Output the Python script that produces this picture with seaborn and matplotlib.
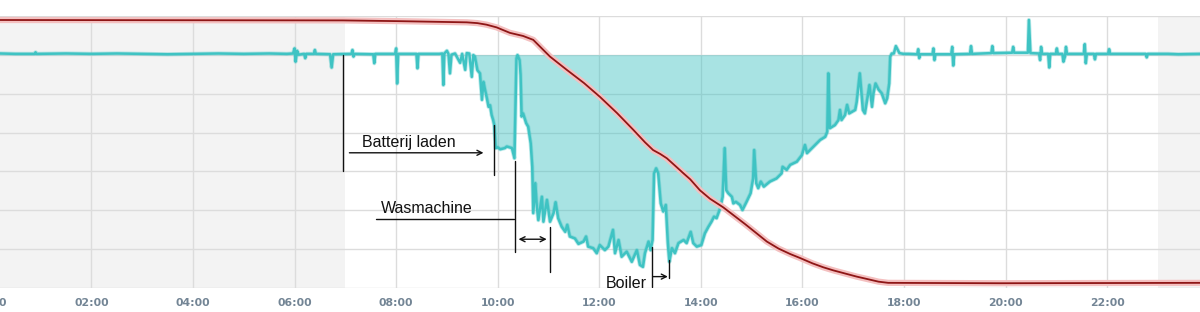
import numpy as np
import pandas as pd
import matplotlib
matplotlib.use("Agg")
import matplotlib.pyplot as plt
import seaborn as sns

# ---- data (hours of day, values in chart units; grid power zero level = 6) ----
grid_hours = [
    0.20, 0.50, 0.88, 0.90, 0.92, 1.50, 2.00, 2.50, 3.00, 3.50, 4.00, 4.50, 5.00, 5.50, 5.85,
    5.97, 6.00, 6.02, 6.05, 6.08, 6.19, 6.21, 6.23, 6.38, 6.40, 6.42, 6.70, 6.73, 6.76,
    7.12, 7.14, 7.16, 7.18, 7.55, 7.57, 7.59, 7.98, 8.00, 8.02, 8.04, 8.40, 8.42, 8.44,
    8.85, 8.91, 8.93, 8.95, 9.00, 9.03, 9.06, 9.09, 9.16, 9.26, 9.30, 9.36, 9.39, 9.44,
    9.49, 9.52, 9.55, 9.60, 9.65, 9.69, 9.72, 9.75, 9.78, 9.82, 9.85, 9.88, 9.91, 9.93,
    9.96, 10.00, 10.05, 10.14, 10.18, 10.28, 10.33, 10.37, 10.39, 10.43, 10.45, 10.47,
    10.50, 10.56, 10.60, 10.65, 10.68, 10.70, 10.74, 10.77, 10.80, 10.87, 10.90, 10.97,
    11.03, 11.10, 11.14, 11.19, 11.26, 11.33, 11.37, 11.42, 11.52, 11.59, 11.69, 11.74,
    11.78, 11.88, 11.95, 12.01, 12.11, 12.18, 12.27, 12.31, 12.38, 12.44, 12.54, 12.64,
    12.74, 12.80, 12.86, 12.90, 12.97, 13.01, 13.05, 13.08, 13.12, 13.16, 13.21, 13.26,
    13.31, 13.35, 13.38, 13.43, 13.49, 13.56, 13.66, 13.72, 13.80, 13.85, 13.92, 14.01,
    14.08, 14.15, 14.21, 14.26, 14.31, 14.38, 14.43, 14.47, 14.50, 14.54, 14.61, 14.64,
    14.69, 14.77, 14.82, 14.90, 14.98, 15.03, 15.05, 15.09, 15.13, 15.18, 15.24, 15.36,
    15.49, 15.59, 15.61, 15.69, 15.76, 15.89, 15.99, 16.05, 16.09, 16.22, 16.35, 16.45,
    16.49, 16.51, 16.54, 16.64, 16.71, 16.74, 16.77, 16.84, 16.88, 16.92, 17.04, 17.07,
    17.13, 17.19, 17.23, 17.28, 17.32, 17.37, 17.40, 17.44, 17.50, 17.56, 17.63, 17.67,
    17.71, 17.73, 17.76, 17.80, 17.84, 17.91, 17.99, 18.09,
    18.26, 18.28, 18.30, 18.32, 18.56, 18.58, 18.60, 18.62, 18.93, 18.95, 18.97, 18.99,
    19.30, 19.32, 19.34, 19.72, 19.74, 19.76, 20.13, 20.15, 20.17, 20.44, 20.46, 20.49,
    20.66, 20.68, 20.70, 20.72, 20.84, 20.86, 20.88, 20.99, 21.01, 21.03, 21.12, 21.14,
    21.17, 21.19, 21.21, 21.54, 21.56, 21.58, 21.60, 21.74, 21.76, 21.78, 22.02, 22.04,
    22.06, 22.50, 22.76, 22.78, 22.80, 23.20, 23.40, 23.84,
]
grid_values = [
    6.03, 6.02, 6.02, 6.06, 6.02, 6.03, 6.02, 6.03, 6.02, 6.01, 6.02, 6.03, 6.02, 6.03, 6.02,
    6.03, 6.16, 5.82, 6.10, 6.00, 6.02, 5.91, 6.02, 6.02, 6.12, 6.02, 6.01, 5.67, 6.01,
    6.02, 6.12, 5.95, 6.02, 6.01, 5.78, 6.02, 6.02, 6.16, 5.26, 6.02, 6.02, 5.65, 6.02,
    6.02, 6.03, 5.22, 6.03, 6.10, 6.02, 5.52, 6.00, 6.03, 5.79, 6.02, 5.61, 6.04, 6.03,
    5.43, 5.99, 5.95, 5.60, 5.52, 4.84, 5.30, 5.10, 4.92, 4.66, 4.70, 4.45, 4.32, 4.20,
    3.60, 3.62, 3.57, 3.60, 3.64, 3.60, 3.34, 5.90, 5.99, 5.86, 5.48, 4.41,
    4.49, 4.24, 4.15, 3.72, 3.12, 1.93, 2.70, 2.10, 1.75, 2.35, 1.71, 2.27,
    1.71, 1.93, 2.21, 1.80, 1.58, 1.45, 1.63, 1.33, 1.28, 1.14, 1.20, 1.33,
    1.07, 1.03, 0.90, 1.11, 0.98, 1.07, 1.50, 0.90, 1.24, 0.81, 0.94, 0.68,
    0.98, 0.60, 0.55, 0.90, 1.20, 0.98, 1.24, 2.95, 3.08, 2.95, 2.18, 1.97,
    2.14, 1.16, 0.68, 1.03, 0.90, 1.16, 1.24, 1.16, 1.45, 1.16, 1.07, 1.11,
    1.41, 1.58, 1.71, 1.84, 1.80, 2.05, 2.35, 3.60, 2.52, 2.44, 2.35, 2.18,
    2.22, 2.14, 2.01, 2.22, 2.44, 2.82, 3.55, 2.70, 2.57, 2.74, 2.61, 2.74,
    2.82, 2.95, 3.12, 3.04, 3.17, 3.25, 3.42, 3.68, 3.47, 3.64, 3.81, 3.89,
    4.02, 5.52, 4.11, 4.19, 4.32, 4.58, 4.32, 4.45, 4.71, 4.49, 4.58, 4.79,
    5.52, 4.58, 4.49, 4.88, 5.22, 4.66, 5.01, 5.26, 5.10, 5.01, 4.75, 4.88,
    5.26, 5.95, 6.03, 6.03, 6.22, 6.04, 6.02, 6.02,
    6.01, 6.14, 5.91, 6.01, 6.01, 6.16, 5.86, 6.01, 6.01, 6.20, 5.72, 6.01,
    6.02, 6.22, 6.02, 6.04, 6.22, 6.04, 6.05, 6.20, 6.05, 6.05, 6.89, 6.04,
    6.03, 5.86, 6.20, 6.02, 6.02, 5.67, 6.02, 6.02, 6.16, 6.02, 6.02, 5.82,
    5.95, 6.20, 6.02, 6.02, 6.27, 5.78, 6.02, 6.02, 5.88, 6.02, 6.02, 6.14,
    6.02, 6.02, 6.02, 5.93, 6.02, 6.02, 6.01, 6.02,
]
red_hours = [0.20, 6.95, 8.08, 9.39, 9.60, 9.78, 9.98, 10.24, 10.50, 10.70, 11.03, 11.36,
             11.70, 12.01, 12.35, 12.67, 12.90, 13.06, 13.20, 13.33, 13.50, 13.66, 13.79,
             13.98, 14.18, 14.44, 14.64, 14.87, 15.10, 15.30, 15.53, 15.76, 15.95, 16.20,
             16.41, 16.61, 16.84, 17.07, 17.27, 17.50, 17.69, 19.89, 23.84]
red_values = [6.89, 6.88, 6.86, 6.83, 6.81, 6.77, 6.70, 6.56, 6.48, 6.38, 5.95, 5.61,
              5.27, 4.92, 4.50, 4.07, 3.75, 3.55, 3.45, 3.34, 3.14, 2.95, 2.80,
              2.52, 2.30, 2.08, 1.88, 1.65, 1.41, 1.20, 1.02, 0.88, 0.78, 0.64,
              0.54, 0.46, 0.38, 0.30, 0.24, 0.17, 0.14, 0.13, 0.14]
tick_hours = [0, 2, 4, 6, 8, 10, 12, 14, 16, 18, 20, 22]
tick_labels = ["00:00", "02:00", "04:00", "06:00", "08:00", "10:00", "12:00",
               "14:00", "16:00", "18:00", "20:00", "22:00"]
zero_level = 6.0

grid_df = pd.DataFrame({"hour": grid_hours, "value": grid_values})
red_df = pd.DataFrame({"hour": red_hours, "value": red_values})

sns.set_style("white")
plt.rcParams["font.family"] = ["Liberation Sans", "DejaVu Sans"]

TEAL = "#3fc3c3"
fig = plt.figure(figsize=(12, 3.12), dpi=100)
ax = fig.add_axes([-10.15 / 1200, (312 - 288.3) / 312, 24 * 50.785 / 1200, 7 * 38.94 / 312])
ax.set_xlim(0, 24)
ax.set_ylim(0, 7)

# night shading
ax.axvspan(0, 7.0, color="#f3f3f3", zorder=0, lw=0)
ax.axvspan(23.0, 24, color="#f3f3f3", zorder=0, lw=0)

# grid
ax.set_axisbelow(True)
ax.set_yticks(range(8))
ax.set_xticks(tick_hours)
ax.set_xticklabels(tick_labels)
ax.grid(True, color="#dcdcdc", lw=1)
for s in ax.spines.values():
    s.set_visible(False)
ax.tick_params(axis="y", left=False, labelleft=False)
ax.tick_params(axis="x", length=0, pad=7.2, labelsize=7.8, labelcolor="#738595")
for lab in ax.get_xticklabels():
    lab.set_fontfamily("DejaVu Sans")
    lab.set_fontweight("bold")

# fill for export
h = np.array(grid_hours)
v = np.array(grid_values)
mask = (h >= 9.52) & (h <= 17.76)
ax.fill_between(h, v, zero_level, where=mask & (v <= zero_level + 0.01), interpolate=True,
                color=TEAL, alpha=0.45, lw=0, zorder=1)

# lines
sns.lineplot(data=grid_df, x="hour", y="value", ax=ax, color=TEAL, lw=3.0, alpha=0.35,
             zorder=2, legend=False)
sns.lineplot(data=grid_df, x="hour", y="value", ax=ax, color=TEAL, lw=1.8, zorder=3,
             legend=False)
sns.lineplot(data=red_df, x="hour", y="value", ax=ax, color="#f4c0c0", lw=4.5, zorder=3,
             legend=False)
sns.lineplot(data=red_df, x="hour", y="value", ax=ax, color="#8e1616", lw=1.3, zorder=4,
             legend=False)
ax.set_xlabel("")
ax.set_ylabel("")

# annotations
k = dict(color="#111111", lw=1.0, zorder=6)
ax.plot([6.96, 6.96], [5.99, 3.02], **k)
ax.plot([9.93, 9.93], [4.19, 2.91], **k)
ax.plot([7.60, 10.32], [1.77, 1.77], **k)
ax.plot([10.35, 10.35], [3.28, 0.92], **k)
ax.plot([11.03, 11.03], [1.57, 0.41], **k)
ax.plot([13.03, 13.03], [1.07, 0.04], **k)
ax.plot([13.37, 13.37], [0.73, 0.26], **k)

ap = dict(color="#111111", lw=1.0, shrinkA=0, shrinkB=0, mutation_scale=9)
ax.annotate("", xy=(9.72, 3.48), xytext=(7.08, 3.48), arrowprops=dict(arrowstyle="->", **ap), zorder=6)
ax.annotate("", xy=(10.965, 1.26), xytext=(10.41, 1.26), arrowprops=dict(arrowstyle="<->", **ap), zorder=6)
ax.annotate("", xy=(13.35, 0.30), xytext=(13.05, 0.30), arrowprops=dict(arrowstyle="->", **ap), zorder=6)

tk = dict(fontsize=11.5, color="#111111", ha="left", va="baseline", zorder=7)
ax.text(7.32, 3.64, "Batterij laden", **tk)
ax.text(7.70, 1.94, "Wasmachine", **tk)
ax.text(12.13, 0.0, "Boiler", clip_on=False, **tk)

fig.savefig("out.png", dpi=100)
